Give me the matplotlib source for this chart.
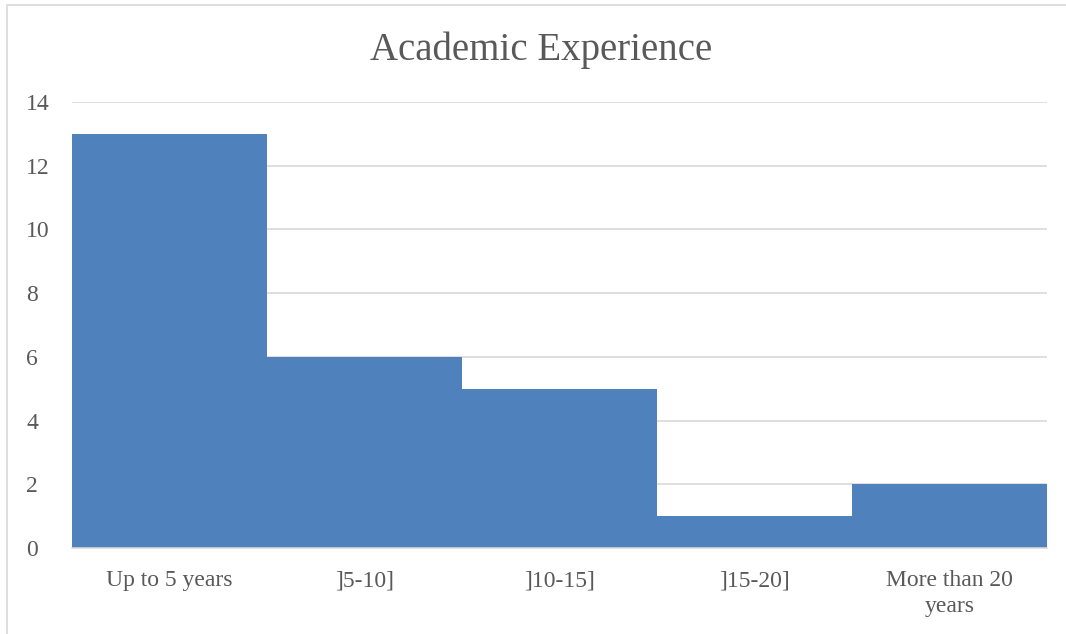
import matplotlib.pyplot as plt
from matplotlib.patches import Rectangle

categories = ["Up to 5 years", "]5-10]", "]10-15]", "]15-20]", "More than 20\nyears"]
counts = [13, 6, 5, 1, 2]
yticks = [0, 2, 4, 6, 8, 10, 12, 14]

plt.rcParams['font.family'] = ['Liberation Serif', 'DejaVu Serif']
txt = '#595959'
grid = '#d9d9d9'

fig = plt.figure(figsize=(10.66, 6.34), dpi=100)
ax = fig.add_axes([72 / 1066, 1 - 548 / 634, (1047 - 72) / 1066, (548 - 102) / 634])

ax.bar(range(len(counts)), counts, width=1.0, color='#4f81bd', zorder=2)
ax.set_xlim(-0.5, len(counts) - 0.5)
ax.set_ylim(0, 14)
ax.set_yticks(yticks)
ax.yaxis.grid(True, color=grid, linewidth=1.2, zorder=0)
ax.set_xticks(range(len(counts)))
ax.set_xticklabels(categories, fontsize=17, color=txt, linespacing=1.3)
ax.tick_params(axis='y', labelsize=17, labelcolor=txt, length=0, pad=33)
ax.tick_params(axis='x', length=0, pad=16)
for s in ['top', 'right', 'left']:
    ax.spines[s].set_visible(False)
ax.spines['bottom'].set_color(grid)
ax.spines['bottom'].set_linewidth(1.2)
ax.spines['bottom'].set_zorder(3)
for lab in ax.get_yticklabels():
    lab.set_horizontalalignment('left')

fig.text(541 / 1066, 1 - 50 / 634, "Academic Experience", fontsize=28, color=txt,
         ha='center', va='center')

# chart outline
fig.patches.append(Rectangle((7 / 1066, -0.01), 1.0, 1 - 5 / 634 + 0.01,
                             transform=fig.transFigure, fill=False,
                             edgecolor=grid, linewidth=1.2))

fig.savefig('out.png', dpi=100)
